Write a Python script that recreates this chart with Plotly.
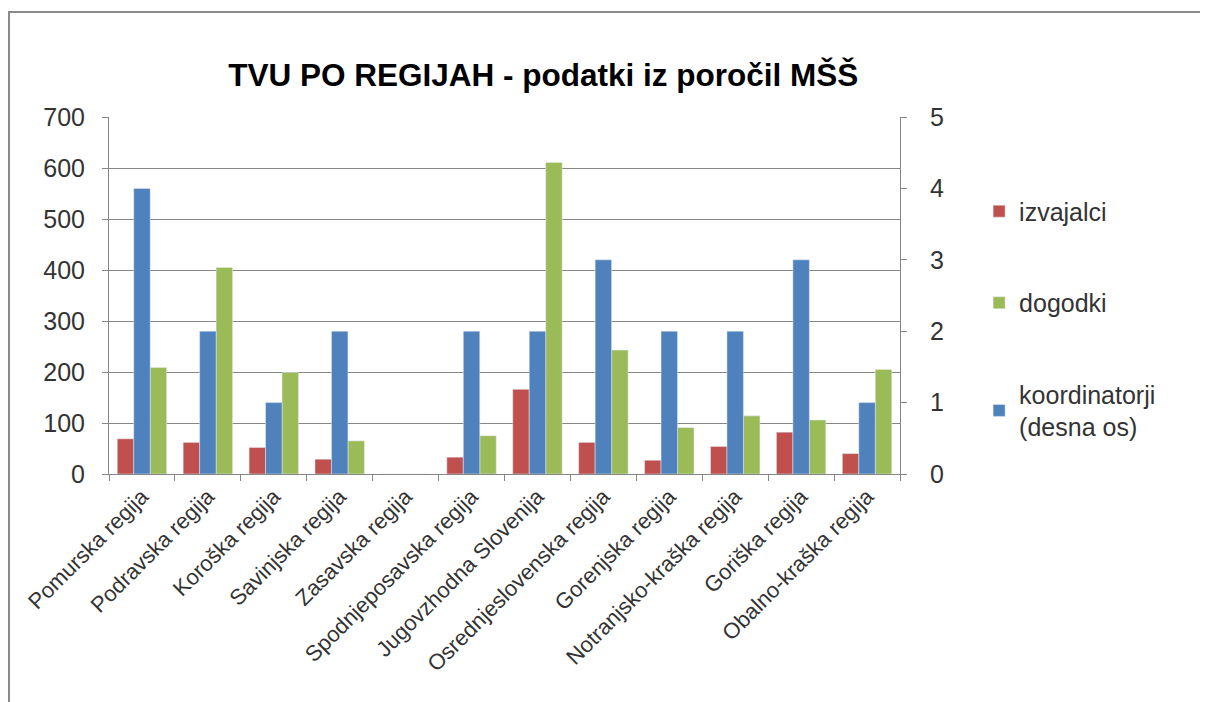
import plotly.graph_objects as go

# data
regije = ["Pomurska regija", "Podravska regija", "Koroška regija", "Savinjska regija",
          "Zasavska regija", "Spodnjeposavska regija", "Jugovzhodna Slovenija",
          "Osrednjeslovenska regija", "Gorenjska regija", "Notranjsko-kraška regija",
          "Goriška regija", "Obalno-kraška regija"]
izvajalci = [69, 62, 52, 29, 0, 33, 166, 62, 27, 54, 82, 40]
dogodki = [209, 405, 199, 65, 0, 75, 611, 243, 91, 114, 106, 205]
koordinatorji = [4, 2, 1, 2, 0, 2, 2, 3, 2, 2, 3, 1]

left_ticks = [0, 100, 200, 300, 400, 500, 600, 700]
right_ticks = [0, 1, 2, 3, 4, 5]

font = "Liberation Sans, Arial, sans-serif"
grey = "#868686"

fig = go.Figure()

# izvajalci (left axis)
fig.add_trace(go.Bar(x=regije, y=izvajalci, name="izvajalci",
                     marker_color="#C0504D", offset=-0.375, width=0.25,
                     legendgroup="a"))
# dogodki (left axis)
fig.add_trace(go.Bar(x=regije, y=dogodki, name="dogodki",
                     marker_color="#9BBB59", offset=0.125, width=0.25,
                     legendgroup="b"))
# koordinatorji (right axis)
fig.add_trace(go.Bar(x=regije, y=koordinatorji, name="koordinatorji<br>(desna os)",
                     marker_color="#4F81BD", offset=-0.125, width=0.25,
                     yaxis="y2", legendgroup="c"))

fig.update_layout(
    width=1208, height=702,
    margin=dict(l=101, r=316, t=109, b=236),
    paper_bgcolor="white", plot_bgcolor="white",
    barmode="overlay",
    font=dict(family=font, size=21, color="#333333"),
    title=dict(text="<b>TVU PO REGIJAH - podatki iz poročil MŠŠ</b>",
               x=0.549, xref="paper", xanchor="center", y=0.905, yanchor="middle",
               font=dict(family=font, size=31.5, color="black")),
    xaxis=dict(showline=True, linecolor=grey, linewidth=1, ticks="outside",
               tickson="boundaries", tickcolor=grey, ticklen=6, tickangle=-45,
               tickfont=dict(size=22, color="#333333"),
               showgrid=False),
    yaxis=dict(range=[0, 700], tickvals=left_ticks, showgrid=True, gridcolor=grey,
               gridwidth=1, showline=True, linecolor=grey, ticks="outside",
               tickcolor=grey, ticklen=6, zeroline=False, ticklabelstandoff=12,
               tickfont=dict(size=25, color="#333333")),
    yaxis2=dict(range=[0, 5], tickvals=right_ticks, overlaying="y", side="right",
                showgrid=False, showline=True, linecolor=grey, ticks="outside",
                tickcolor=grey, ticklen=6, zeroline=False, ticklabelstandoff=18,
                tickfont=dict(size=25, color="#333333")),
    legend=dict(x=1.1, xanchor="left", y=0.8, yanchor="top",
                tracegroupgap=56, font=dict(size=25, color="#333333"),
                itemwidth=30, traceorder="grouped"),
    shapes=[dict(type="rect", xref="paper", yref="paper",
                 x0=-0.1264, x1=1.6, y0=-0.8, y1=1.294,
                 line=dict(color="#8a8a8a", width=2), layer="below")],
)

fig.write_html("out.html")
